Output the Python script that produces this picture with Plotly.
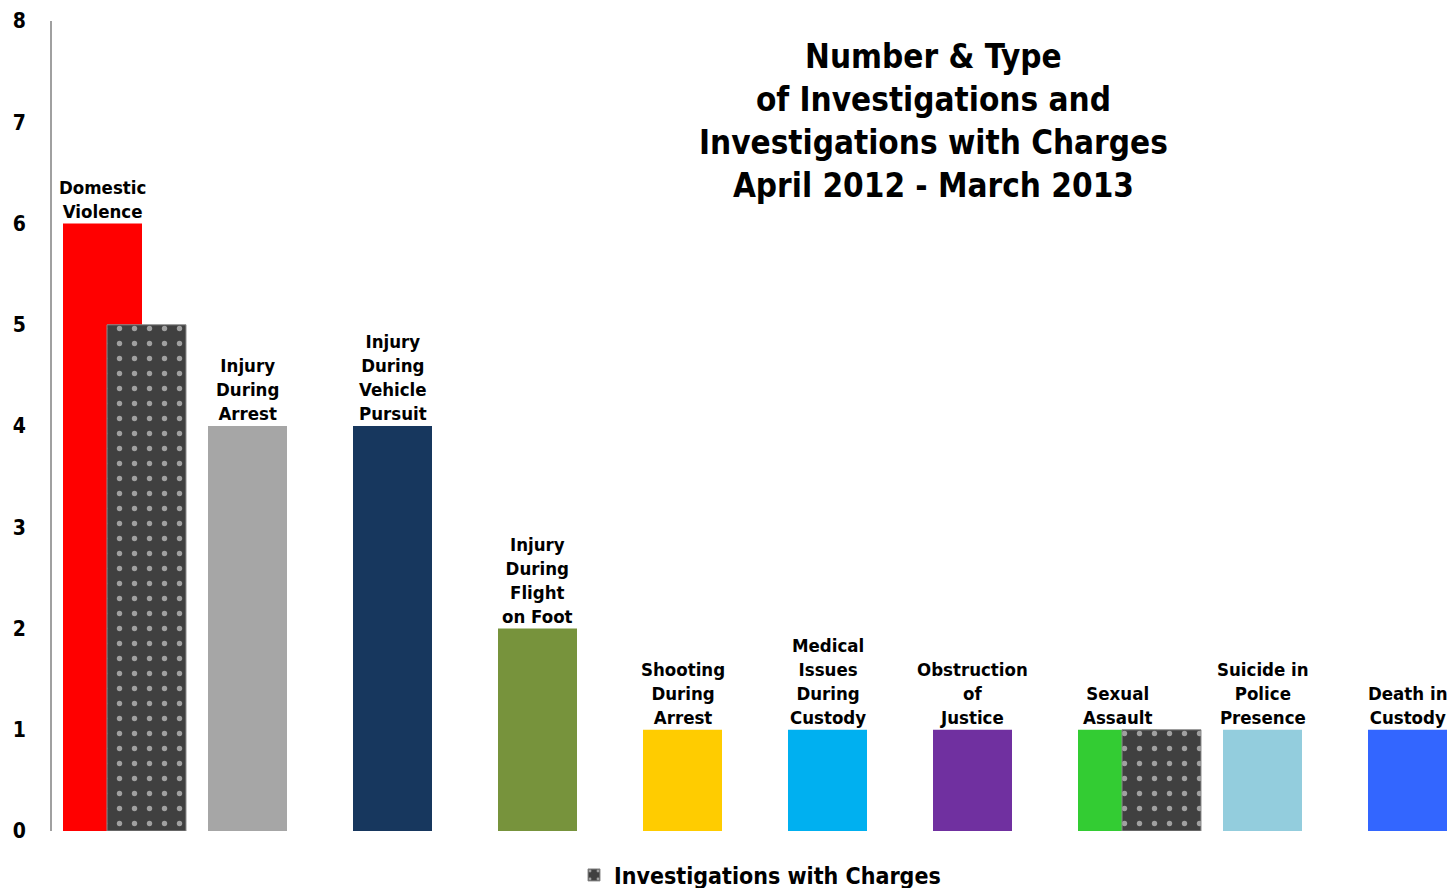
import plotly.graph_objects as go

categories = ["Domestic<br>Violence", "Injury<br>During<br>Arrest", "Injury<br>During<br>Vehicle<br>Pursuit",
              "Injury<br>During<br>Flight<br>on Foot", "Shooting<br>During<br>Arrest",
              "Medical<br>Issues<br>During<br>Custody", "Obstruction<br>of<br>Justice",
              "Sexual<br>Assault", "Suicide in<br>Police<br>Presence", "Death in<br>Custody"]
investigations = [6, 4, 4, 2, 1, 1, 1, 1, 1, 1]
with_charges = [5, None, None, None, None, None, None, 1, None, None]
colors = ["#FF0000", "#A6A6A6", "#17375E", "#77933C", "#FFCC00",
          "#00B0F0", "#7030A0", "#33CC33", "#93CDDD", "#3366FF"]
y_ticks = [0, 1, 2, 3, 4, 5, 6, 7, 8]

FONT = "DejaVu Sans Condensed, DejaVu Sans, sans-serif"
xs = list(range(len(categories)))
W = 79 / 145
SHIFT = 22 / 145

fig = go.Figure()
fig.add_trace(go.Bar(
    x=xs, y=investigations, width=W, offset=-SHIFT - W / 2,
    marker=dict(color=colors, line=dict(width=0)), showlegend=False,
    name="Investigations"))
fig.add_trace(go.Bar(
    x=xs, y=with_charges, width=W, offset=SHIFT - W / 2,
    marker=dict(color="#404040", line=dict(color="#8C8C8C", width=1),
                pattern=dict(shape=".", fgcolor="white", bgcolor="#404040",
                             size=15, solidity=0.1)),
    name="<b>Investigations with Charges</b>"))

for i, (lab, v) in enumerate(zip(categories, investigations)):
    fig.add_annotation(x=i - SHIFT, y=v, text="<b>" + lab + "</b>", showarrow=False,
                       yanchor="bottom", yshift=0, align="center",
                       font=dict(family=FONT, size=18.5, color="black"))

fig.add_annotation(xref="paper", yref="paper", x=(933 - 52) / 1404, y=1, yanchor="top", yshift=-14,
                   text="<b>Number & Type<br>of Investigations and<br>Investigations with Charges<br>April 2012 - March 2013</b>",
                   showarrow=False, align="center",
                   font=dict(family=FONT, size=33, color="black"))

fig.update_layout(
    width=1456, height=888, barmode="overlay",
    margin=dict(l=52, r=0, t=21, b=57),
    plot_bgcolor="white", paper_bgcolor="white",
    font=dict(family=FONT, color="black"),
    legend=dict(orientation="h", xref="paper", yref="container", x=(760 - 52) / 1404, xanchor="center",
                y=(888 - 875) / 888, yanchor="middle", font=dict(family=FONT, size=23, color="black"),
                itemwidth=30),
    xaxis=dict(range=[-0.5, -0.5 + 1404 / 145], showticklabels=False, showgrid=False,
               zeroline=False, showline=False, ticks="", automargin=False),
    yaxis=dict(range=[0, 8], tickvals=y_ticks, ticktext=["<b>%d</b>" % t for t in y_ticks],
               showgrid=False, zeroline=False, showline=True, linecolor="#A0A0A0", linewidth=2,
               ticks="", tickfont=dict(family=FONT, size=21, color="black"), ticklabelstandoff=20,
               automargin=False),
)

fig.write_html("out.html", config={"displayModeBar": False},
               post_script="document.body.style.margin='0';")
